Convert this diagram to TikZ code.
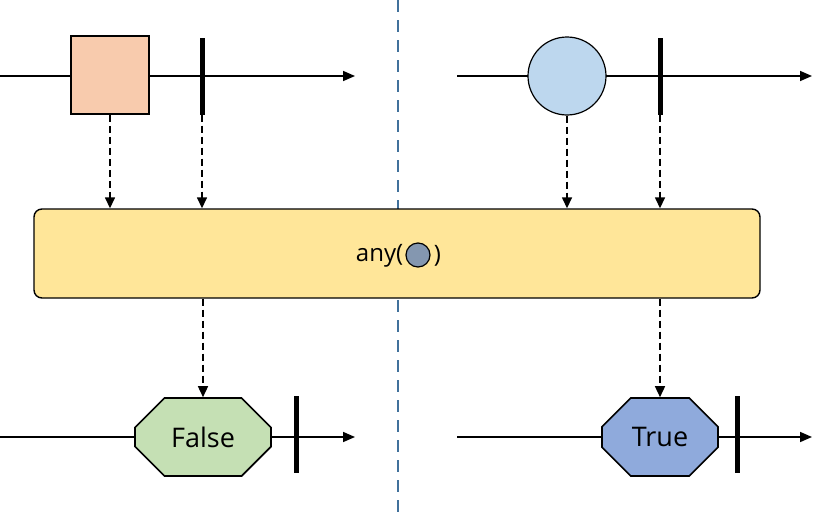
\documentclass[tikz,border=0pt]{standalone}
\usepackage{fontspec}
\setmainfont{Open Sans}
\usetikzlibrary{arrows.meta,shapes.misc,positioning}
\definecolor{squarefill}{HTML}{F8CBAD}
\definecolor{circlefill}{HTML}{BDD7EE}
\definecolor{opfill}{HTML}{FFE699}
\definecolor{falsefill}{HTML}{C5E0B4}
\definecolor{truefill}{HTML}{8FAADC}
\definecolor{argfill}{HTML}{8497B0}
\definecolor{divider}{HTML}{41719C}
\tikzset{
  timeline/.style={line width=1.6pt,-{Triangle[length=12pt,width=10pt]}},
  feed/.style={line width=1.5pt,dash pattern=on 7pt off 4pt,-{Triangle[length=11pt,width=10pt]}},
  endbar/.style={fill=black,inner sep=0pt,minimum width=5pt,minimum height=77pt},
  result/.style={draw,line width=1.6pt,minimum height=78pt,inner sep=0pt,chamfered rectangle,
    chamfered rectangle xsep=23pt,chamfered rectangle ysep=19pt,font=\fontsize{27}{32}\selectfont},
  optext/.style={inner sep=0pt,font=\fontsize{24}{29}\selectfont},
}
\begin{document}
\begin{tikzpicture}[x=1pt,y=-1pt]
        \useasboundingbox (0,0) rectangle (824,514);
        \draw[divider,line width=2.5pt,dash pattern=on 12pt off 8pt] (398,0) -- (398,514);
        % timelines
        \coordinate (in1s) at (0,76);   \coordinate (in1e) at (355,76);
        \coordinate (in2s) at (457,76); \coordinate (in2e) at (812,76);
        \coordinate (out1s) at (0,437);   \coordinate (out1e) at (355,437);
        \coordinate (out2s) at (457,437); \coordinate (out2e) at (812,437);
        \draw[timeline] (in1s) -- (in1e);
        \draw[timeline] (in2s) -- (in2e);
        \draw[timeline] (out1s) -- (out1e);
        \draw[timeline] (out2s) -- (out2e);
        % inputs
        \node at (110,75) (sq) [draw,fill=squarefill,line width=1.6pt,minimum size=78pt,inner sep=0pt] {};
        \node at (202,76) (bar1) [endbar] {};
        \node at (567,76) (circ) [circle,draw,fill=circlefill,line width=1.2pt,minimum size=78pt,inner sep=0pt] {};
        \node at (660,76) (bar2) [endbar] {};
        % operator
        \node at (397,253.5) (op) [draw,fill=opfill,line width=1.4pt,rounded corners=8pt,minimum width=726pt,minimum height=89pt] {};
        \node at (418,255) (arg) [circle,draw,fill=argfill,line width=1.2pt,minimum size=24pt,inner sep=0pt] {};
        \node (open) [optext,left=2pt of arg,yshift=-1pt] {any(};
        \node (close) [optext,right=3pt of arg,yshift=-1pt] {)};
        % outputs
        \node at (203,437) (no) [result,fill=falsefill,minimum width=136pt] {False};
        \node at (296,434) (bar3) [endbar] {};
        \node at (660,437) (yes) [result,fill=truefill,minimum width=116pt] {True};
        \node at (737,434) (bar4) [endbar] {};
        % feeds
        \draw[feed] (sq.south) -- (sq.south |- op.north);
        \draw[feed] (bar1.south) -- (bar1.south |- op.north);
        \draw[feed] (circ.south) -- (circ.south |- op.north);
        \draw[feed] (bar2.south) -- (bar2.south |- op.north);
        \draw[feed] (op.south -| no.north) -- (no.north);
        \draw[feed] (op.south -| yes.north) -- (yes.north);
      \end{tikzpicture}
\end{document}
